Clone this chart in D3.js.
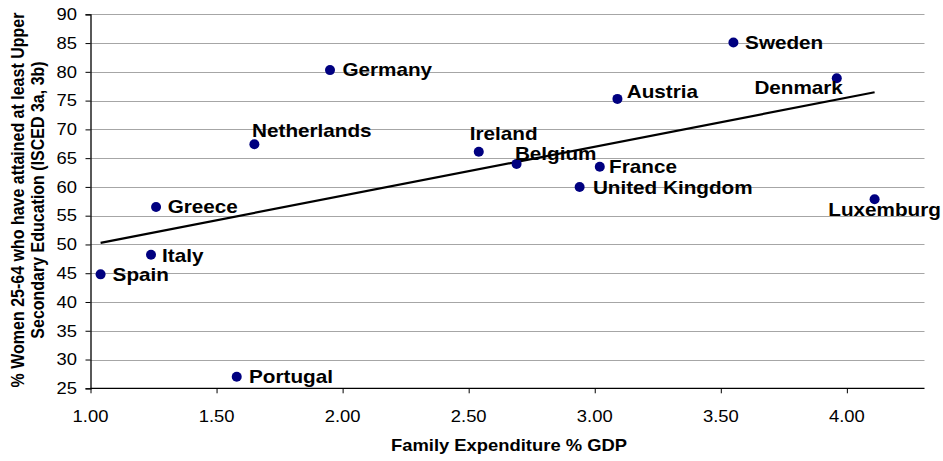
<!DOCTYPE html>
<html>
<head>
<meta charset="utf-8">
<script src="https://cdn.jsdelivr.net/npm/d3@7"></script>
<style>
  html, body { margin: 0; padding: 0; background: #fff; }
  svg { display: block; font-family: "Liberation Sans", Arial, sans-serif; }
</style>
</head>
<body>
<svg id="chart" width="943" height="461"></svg>
<script>
// ---- data ----
const countries = ["Greece", "Netherlands", "Italy", "Spain", "Portugal", "Germany", "Sweden",
                   "Denmark", "Austria", "Luxemburg", "Ireland", "Belgium", "France", "United Kingdom"];
const familyExpenditure = [1.26, 1.65, 1.24, 1.04, 1.58, 1.95, 3.55, 3.96, 3.09, 4.11, 2.54, 2.69, 3.02, 2.94];
const womenUpperSecondary = [56.5, 67.4, 48.2, 44.8, 27.0, 80.3, 85.1, 78.9, 75.3, 57.85, 66.1, 64.0, 63.5, 60.0];
const xTicks = [1.0, 1.5, 2.0, 2.5, 3.0, 3.5, 4.0];
const yTicks = [25, 30, 35, 40, 45, 50, 55, 60, 65, 70, 75, 80, 85, 90];
const xTitle = "Family Expenditure % GDP";
const yTitleLines = ["% Women 25-64 who have attained at least Upper", "Secondary Education (ISCED 3a, 3b)"];

// label placement (pixel offsets from marker: text start x, baseline y)
const labelOffsets = [
  [11.6, 6.3], [-2.3, -7], [11, 6.7], [12, 6.7], [12.3, 6.6], [12.4, 6], [11.7, 7],
  [-82.4, 15.8], [9.3, -0.7], [-46.3, 17], [-9, -11.7], [-1.7, -4], [9.3, 6], [13.3, 6.6]
];

// ---- layout ----
const SX = 1.15; // horizontal stretch of text in the original
const svg = d3.select("#chart");
const x = d3.scaleLinear().domain([1, 4.3]).range([90.5, 922.5]);
const y = d3.scaleLinear().domain([25, 90]).range([388.3, 14.3]);

const data = countries.map((c, i) => ({ name: c, x: familyExpenditure[i], y: womenUpperSecondary[i], off: labelOffsets[i] }));

// gridlines
svg.append("g").selectAll("line").data(yTicks.filter(t => t > 25)).join("line")
  .attr("x1", x.range()[0]).attr("x2", x.range()[1] + 2)
  .attr("y1", d => Math.round(y(d)) + 0.5).attr("y2", d => Math.round(y(d)) + 0.5)
  .attr("stroke", "#a6a6a6").attr("stroke-width", 1);

// axes
const yAxis = svg.append("g").attr("transform", `translate(${x.range()[0]},0)`)
  .call(d3.axisLeft(y).tickValues(yTicks).tickSize(5).tickFormat(""));
const xAxis = svg.append("g").attr("transform", `translate(0,${y.range()[0]})`)
  .call(d3.axisBottom(x).tickValues(xTicks).tickSize(5).tickFormat(""));
xAxis.select(".domain").attr("d", `M${x.range()[0]},0H${x.range()[1] + 2}`);
[xAxis, yAxis].forEach(a => {
  a.selectAll(".domain").attr("stroke", "#000").attr("stroke-width", 1.3);
  a.selectAll(".tick line").attr("stroke", "#000");
});

// tick labels (stretched horizontally)
svg.append("g").selectAll("text").data(yTicks).join("text")
  .attr("transform", d => `translate(77,${y(d) + 5.8}) scale(${SX},1)`)
  .attr("text-anchor", "end").attr("font-size", 16).attr("fill", "#000")
  .text(d => d);
svg.append("g").selectAll("text").data(xTicks).join("text")
  .attr("transform", d => `translate(${x(d)},${y.range()[0] + 33.5}) scale(${SX},1)`)
  .attr("text-anchor", "middle").attr("font-size", 16).attr("fill", "#000")
  .text(d => d3.format(".2f")(d));

// axis titles
svg.append("text")
  .attr("transform", `translate(509,451) scale(${SX},1)`)
  .attr("text-anchor", "middle").attr("font-size", 16).attr("font-weight", "bold")
  .text(xTitle);
const yt = svg.append("g");
yTitleLines.forEach((line, i) => {
  yt.append("text")
    .attr("transform", `translate(${23.5 + i * 20.5},200) scale(${SX},1) rotate(-90)`)
    .attr("text-anchor", "middle").attr("font-size", 16).attr("font-weight", "bold")
    .text(line);
});

// trendline (least squares through the data)
const mx = d3.mean(familyExpenditure), my = d3.mean(womenUpperSecondary);
const slope = d3.sum(familyExpenditure, (v, i) => (v - mx) * (womenUpperSecondary[i] - my)) /
              d3.sum(familyExpenditure, v => (v - mx) * (v - mx));
const icpt = my - slope * mx;
const [xmin, xmax] = d3.extent(familyExpenditure);
svg.append("line")
  .attr("x1", x(xmin)).attr("y1", y(icpt + slope * xmin))
  .attr("x2", x(xmax)).attr("y2", y(icpt + slope * xmax))
  .attr("stroke", "#000").attr("stroke-width", 2.2);

// markers
svg.append("g").selectAll("circle").data(data).join("circle")
  .attr("cx", d => x(d.x)).attr("cy", d => y(d.y)).attr("r", 5)
  .attr("fill", "#000080");

// labels
svg.append("g").selectAll("text").data(data).join("text")
  .attr("transform", d => `translate(${x(d.x) + d.off[0]},${y(d.y) + d.off[1]}) scale(${SX},1)`)
  .attr("font-size", 18).attr("font-weight", "bold").attr("fill", "#000")
  .text(d => d.name);
</script>
</body>
</html>
